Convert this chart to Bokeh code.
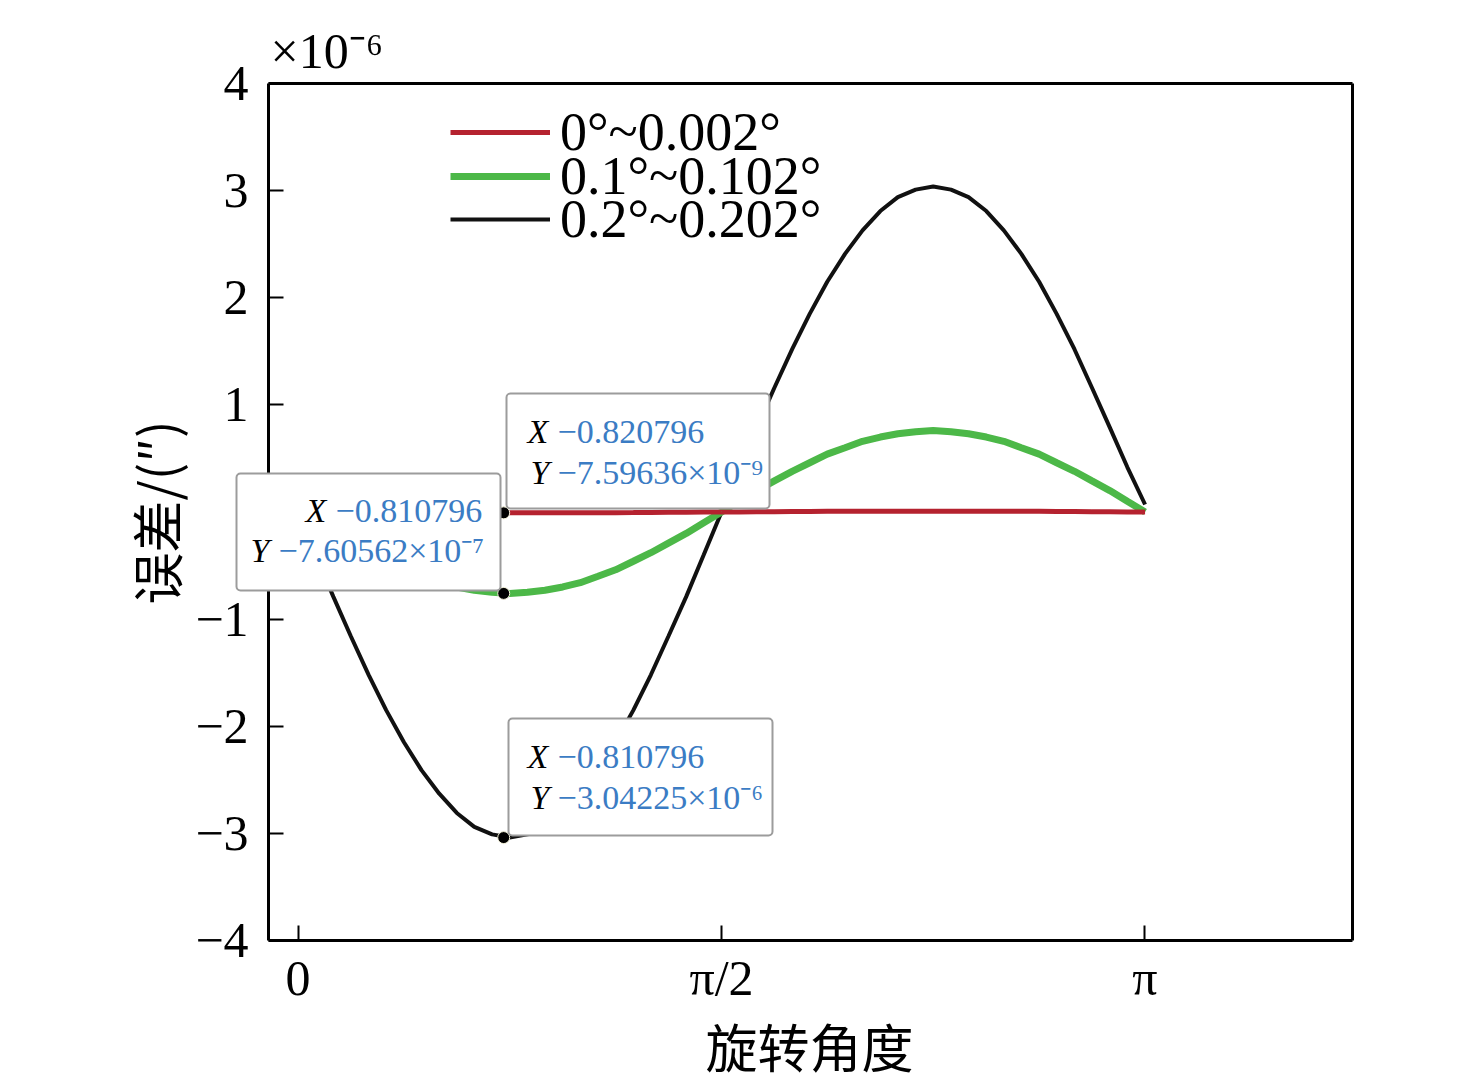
import numpy as np
from bokeh.plotting import figure
from bokeh.models import Range1d, FixedTicker, Legend, LegendItem, Label, BoxAnnotation, LinearAxis
from bokeh.embed import file_html
from bokeh.resources import INLINE

# ---------------- data (values in units of 1e-6) ----------------
angle = [0.000, 0.065, 0.131, 0.196, 0.262, 0.327, 0.393, 0.458, 0.524, 0.589, 0.654, 0.720,
         0.785, 0.851, 0.916, 0.982, 1.047, 1.113, 1.178, 1.244, 1.309, 1.374, 1.440, 1.505,
         1.571, 1.636, 1.702, 1.767, 1.833, 1.898, 1.963, 2.029, 2.094, 2.160, 2.225, 2.291,
         2.356, 2.422, 2.487, 2.553, 2.618, 2.683, 2.749, 2.814, 2.880, 2.945, 3.011, 3.076,
         3.142]
err_0 = [0.000, -0.001, -0.002, -0.003, -0.004, -0.005, -0.006, -0.006, -0.007, -0.007,
         -0.008, -0.008, -0.008, -0.008, -0.008, -0.007, -0.007, -0.006, -0.006, -0.005,
         -0.004, -0.003, -0.002, -0.001, 0.000, 0.001, 0.002, 0.003, 0.004, 0.005, 0.006,
         0.006, 0.007, 0.007, 0.008, 0.008, 0.008, 0.008, 0.008, 0.007, 0.007, 0.006, 0.006,
         0.005, 0.004, 0.003, 0.002, 0.001, 0.000]
err_01 = [0.00, -0.10, -0.20, -0.29, -0.38, -0.46, -0.54, -0.60, -0.66, -0.70, -0.73, -0.75,
          -0.76, -0.75, -0.73, -0.70, -0.66, -0.60, -0.54, -0.46, -0.38, -0.29, -0.20, -0.10,
          0.00, 0.10, 0.20, 0.29, 0.38, 0.46, 0.54, 0.60, 0.66, 0.70, 0.73, 0.75, 0.76, 0.75,
          0.73, 0.70, 0.66, 0.60, 0.54, 0.46, 0.38, 0.29, 0.20, 0.10, 0.00]
err_02 = [0.00, -0.40, -0.79, -1.16, -1.52, -1.85, -2.15, -2.41, -2.63, -2.81, -2.94, -3.01,
          -3.04, -3.01, -2.94, -2.81, -2.63, -2.41, -2.15, -1.85, -1.52, -1.16, -0.79, -0.40,
          0.00, 0.40, 0.79, 1.16, 1.52, 1.85, 2.15, 2.41, 2.63, 2.81, 2.94, 3.01, 3.04, 3.01,
          2.94, 2.81, 2.63, 2.41, 2.15, 1.85, 1.52, 1.16, 0.79, 0.42, 0.07]
series_labels = ["0°~0.002°", "0.1°~0.102°", "0.2°~0.202°"]

tip_x = [0.763, 0.763, 0.763]
tip_y = [-0.008, -0.76, -3.04]
tip_xtext = ["−0.810796", "−0.820796", "−0.810796"]
tip_ytext = ["−7.60562×10⁻⁷", "−7.59636×10⁻⁹", "−3.04225×10⁻⁶"]

x_ticks = [0, np.pi / 2, np.pi]
x_tick_labels = ["0", "π/2", "π"]
y_ticks = [-4, -3, -2, -1, 0, 1, 2, 3, 4]
y_tick_labels = ["−4", "−3", "−2", "−1", "", "1", "2", "3", "4"]
x_min, x_max = -0.109, 3.911
y_min, y_max = -4, 4

# ---------------- layout helpers (canvas pixels -> data) ----------------
W, H = 1470, 1083

def dx(px):
    return (px - 297.5) / 269.6

def dy(py):
    return (511.5 - py) / 107.1

SERIF = "Liberation Serif"
CJK = "Noto Sans CJK SC"

# the frame fills the whole canvas; the axes are drawn at fixed locations inside it
p = figure(width=W, height=H, x_range=Range1d(dx(0), dx(W)), y_range=Range1d(dy(H), dy(0)),
           output_backend="svg", toolbar_location=None, title_location=None,
           x_axis_location=None, y_axis_location=None,
           min_border_left=0, min_border_right=0, min_border_top=0, min_border_bottom=0,
           background_fill_color="white", border_fill_color="white")
p.grid.visible = False
p.outline_line_color = None


def frame_axis(place, loc, bounds, ticks, labels, standoff):
    ax = LinearAxis(fixed_location=loc, bounds=bounds, ticker=FixedTicker(ticks=ticks),
                    axis_line_width=3, axis_line_color="black",
                    major_tick_line_width=2, major_tick_in=15, major_tick_out=0,
                    minor_tick_line_color=None, major_label_standoff=standoff,
                    major_label_text_font=SERIF, major_label_text_font_size="50px",
                    major_label_text_color="black")
    ax.major_label_overrides = {t: s for t, s in zip(ticks, labels)}
    p.add_layout(ax, place)


frame_axis("below", y_min, (x_min, x_max), x_ticks, x_tick_labels, 10)
frame_axis("left", x_min, (y_min, y_max), y_ticks, y_tick_labels, 20)
frame_axis("above", y_max, (x_min, x_max), [], [], 0)
frame_axis("right", x_max, (y_min, y_max), [], [], 0)

p.add_layout(Label(x=dx(809), y=dy(1045), text="旋转角度", text_font=CJK, text_font_size="52px",
                   text_color="black", text_align="center", text_baseline="middle"))
p.add_layout(Label(x=dx(155), y=dy(512), text="误差/(″)", text_font=CJK, text_font_size="52px",
                   text_color="black", text_align="center", text_baseline="middle",
                   angle=np.pi / 2))
p.add_layout(Label(x=dx(270), y=dy(50), text="×10⁻⁶", text_font=SERIF, text_font_size="50px",
                   text_color="black", text_align="left", text_baseline="middle"))

colors = ["#b5222f", "#4cb848", "#111111"]
widths = [5, 7, 4]
renderers = []
for ys, c, w in zip([err_0, err_01, err_02], colors, widths):
    renderers.append(p.line(angle, ys, line_color=c, line_width=w))
p.renderers = [renderers[2], renderers[1], renderers[0]]

p.scatter(tip_x, tip_y, size=12, fill_color="black", line_color="#f2f0d8", line_width=1)

# legend: one entry per Legend object so entries can sit closer than the font height
legend_centers = [132, 176, 219]
for lab, r, cy in zip(series_labels, renderers, legend_centers):
    lg = Legend(items=[LegendItem(label=lab, renderers=[r])],
                location=(450, H - (cy + 30.5)), orientation="vertical",
                border_line_color=None, background_fill_alpha=0,
                padding=0, margin=0, spacing=0,
                glyph_width=100, glyph_height=40, label_standoff=10,
                label_text_font=SERIF, label_text_font_size="54px", label_text_color="black")
    p.add_layout(lg)

# ---------------- data tips ----------------
boxes = [(236, 500, 473, 590), (506, 769, 393, 508), (508, 772, 718, 835)]
line_pos = [((305, 335, 510), (250, 278, 550)),
            ((527, 557, 431), (530, 557, 472)),
            ((527, 557, 756), (530, 557, 797))]
BLUE = "#3b7cc4"
for (l, r, t, b), ((xx, xv, y1), (yx, yv, y2)), xt, yt in zip(boxes, line_pos, tip_xtext, tip_ytext):
    p.add_layout(BoxAnnotation(left=dx(l), right=dx(r), top=dy(t), bottom=dy(b),
                               fill_color="white", fill_alpha=1, line_color="#9c9c9c",
                               line_alpha=1, line_width=2, border_radius=4))
    p.add_layout(Label(x=dx(xx), y=dy(y1), text="X", text_font=SERIF, text_font_size="34px",
                       text_font_style="italic", text_color="black", text_baseline="middle"))
    p.add_layout(Label(x=dx(xv), y=dy(y1), text=xt, text_font=SERIF, text_font_size="34px",
                       text_color=BLUE, text_baseline="middle"))
    p.add_layout(Label(x=dx(yx), y=dy(y2), text="Y", text_font=SERIF, text_font_size="34px",
                       text_font_style="italic", text_color="black", text_baseline="middle"))
    p.add_layout(Label(x=dx(yv), y=dy(y2), text=yt, text_font=SERIF, text_font_size="34px",
                       text_color=BLUE, text_baseline="middle"))

open("out.html", "w").write(file_html(p, INLINE))
